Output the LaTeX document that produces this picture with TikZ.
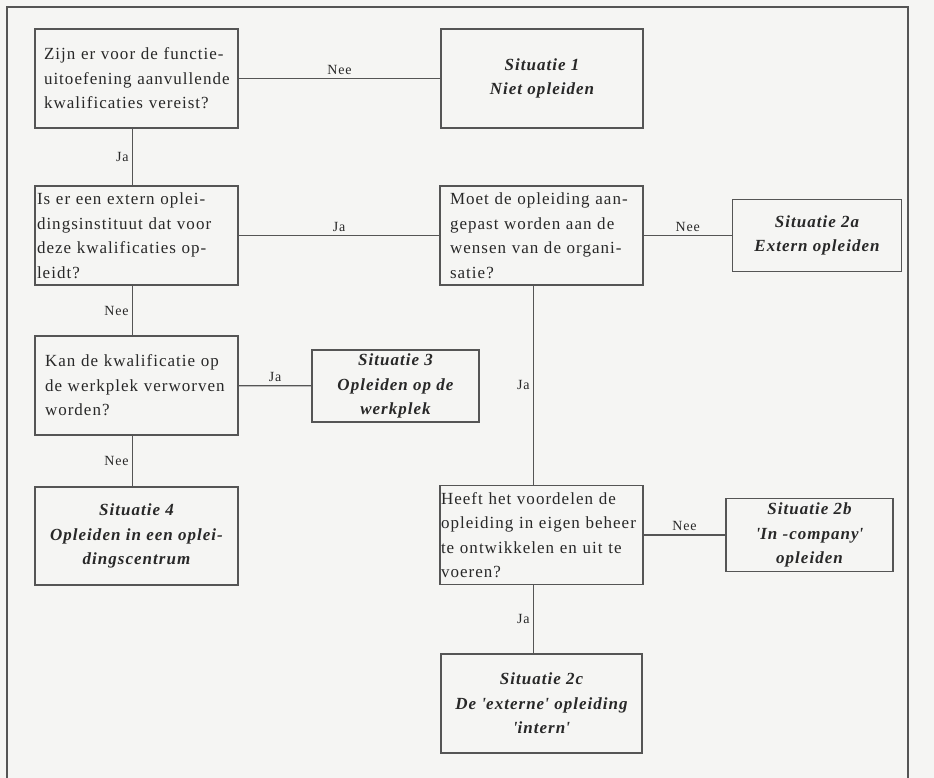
\documentclass[tikz,border=0pt]{standalone}
\usepackage{fontspec}
\setmainfont{Liberation Serif}[LetterSpace=6]
\usetikzlibrary{positioning}
\definecolor{paper}{RGB}{245,245,243}
\definecolor{linegray}{RGB}{85,85,85}
\definecolor{inkgray}{RGB}{40,40,40}

\begin{document}
\begin{tikzpicture}[
    x=1pt, y=-1pt,
    question/.style={draw=linegray, line width=1.2pt, minimum width=203pt, minimum height=99pt, text width=185pt, align=left, inner xsep=9pt, text=inkgray, font=\fontsize{17}{24.5}\selectfont},
    situation/.style={draw=linegray, line width=1.2pt, align=center, text=inkgray, font=\fontsize{17}{24.5}\selectfont\bfseries\itshape},
    conn/.style={draw=linegray, line width=1.2pt},
    answer/.style={text=inkgray, font=\fontsize{14}{16}\selectfont}
]

% page and frame
\fill[paper] (0,0) rectangle (934,778);
\useasboundingbox (0,0) rectangle (934,778);
\clip (0,0) rectangle (934,778);
\draw[conn] (7,7) rectangle (908,800);

% left column
\node[question] (kwal) at (136.5,78.5) {Zijn er voor de functie-\\uitoefening aanvullende\\kwalificaties vereist?};
\node[question, inner xsep=2pt, text width=199pt] (extern) at (136.5,235.5) {Is er een extern oplei-\\dingsinstituut dat voor\\deze kwalificaties op-\\leidt?};
\node[question, inner xsep=10pt, text width=183pt] (werkplek) at (136.5,385.5) {Kan de kwalificatie op\\de werkplek verworven\\worden?};
\node[situation, minimum width=203pt, minimum height=98pt] (sit4) at (136.5,536) {Situatie 4\\Opleiden in een oplei-\\dingscentrum};

% middle column
\node[situation, minimum width=202pt, minimum height=99pt] (sit1) at (542,78.5) {Situatie 1\\Niet opleiden};
\node[question, inner xsep=10pt, text width=183pt] (aanpas) at (541.5,235.5) {Moet de opleiding aan-\\gepast worden aan de\\wensen van de organi-\\satie?};
\node[situation, minimum width=167pt, minimum height=72pt] (sit3) at (395.5,386) {Situatie 3\\Opleiden op de\\werkplek};
\node[question, inner xsep=1pt, text width=201pt] (beheer) at (541.5,535) {Heeft het voordelen de\\opleiding in eigen beheer\\te ontwikkelen en uit te\\voeren?};
\node[situation, minimum width=201pt, minimum height=99pt] (sit2c) at (541.5,703.5) {Situatie 2c\\De \textquotesingle externe\textquotesingle{} opleiding\\\textquotesingle intern\textquotesingle};

% right column
\node[situation, minimum width=169pt, minimum height=72pt] (sit2a) at (817,235.5) {Situatie 2a\\Extern opleiden};
\node[situation, minimum width=167pt, minimum height=73pt] (sit2b) at (809.5,535) {Situatie 2b\\\textquotesingle In -company\textquotesingle\\opleiden};

% connectors
\draw[conn] (kwal) -- node[answer, above] {Nee} (sit1);
\draw[conn] ([xshift=-4pt]kwal.south) -- node[answer, left] {Ja} ([xshift=-4pt]extern.north);
\draw[conn] (extern) -- node[answer, above] {Ja} (aanpas);
\draw[conn] (aanpas) -- node[answer, above] {Nee} (sit2a);
\draw[conn] ([xshift=-4pt]extern.south) -- node[answer, left] {Nee} ([xshift=-4pt]werkplek.north);
\draw[conn] (werkplek) -- node[answer, above] {Ja} (sit3);
\draw[conn] ([xshift=-4pt]werkplek.south) -- node[answer, left] {Nee} ([xshift=-4pt]sit4.north);
\draw[conn] ([xshift=-8pt]aanpas.south) -- node[answer, left] {Ja} ([xshift=-8pt]beheer.north);
\draw[conn] (beheer) -- node[answer, above] {Nee} (sit2b);
\draw[conn] ([xshift=-8pt]beheer.south) -- node[answer, left] {Ja} ([xshift=-8pt]sit2c.north);

\end{tikzpicture}
\end{document}
